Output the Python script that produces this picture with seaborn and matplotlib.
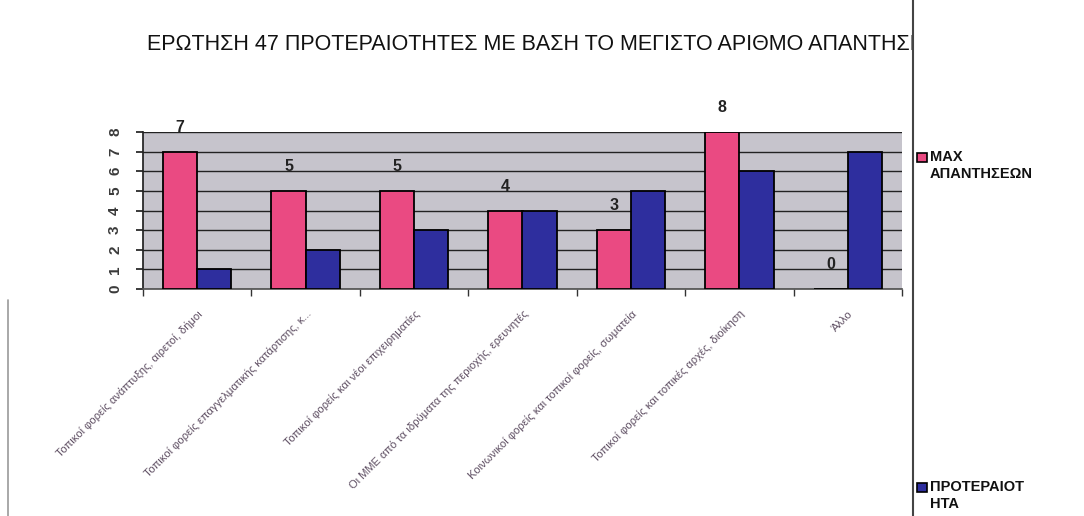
import matplotlib
matplotlib.use("Agg")
import matplotlib.pyplot as plt
from matplotlib.patches import Rectangle
from matplotlib.lines import Line2D
import seaborn as sns
import pandas as pd

categories = [
    "Τοπικοί φορείς ανάπτυξης, αιρετοί, δήμοι",
    "Τοπικοί φορείς επαγγελματικής κατάρτισης, κ...",
    "Τοπικοί φορείς και νέοι επιχειρηματίες",
    "Οι ΜΜΕ από τα ιδρύματα της περιοχής, ερευνητές",
    "Κοινωνικοί φορείς και τοπικοί φορείς, σωματεία",
    "Τοπικοί φορείς και τοπικές αρχές, διοίκηση",
    "Άλλο",
]
series_names = ["MAX ΑΠΑΝΤΗΣΕΩΝ", "ΠΡΟΤΕΡΑΙΟΤΗΤΑ"]
max_answers = [7, 5, 5, 4, 3, 8, 0]
priority = [1, 2, 3, 4, 5, 6, 7]
y_ticks = [0, 1, 2, 3, 4, 5, 6, 7, 8]
title = "ΕΡΩΤΗΣΗ 47 ΠΡΟΤΕΡΑΙΟΤΗΤΕΣ ΜΕ ΒΑΣΗ ΤΟ ΜΕΓΙΣΤΟ ΑΡΙΘΜΟ ΑΠΑΝΤΗΣΕΩΝ"
legend_texts = ["MAX\nΑΠΑΝΤΗΣΕΩΝ", "ΠΡΟΤΕΡΑΙΟΤ\nΗΤΑ"]

pink = "#ea4a82"
blue = "#2e2e9e"

df = pd.DataFrame({
    "cat": categories * 2,
    "series": [series_names[0]] * len(categories) + [series_names[1]] * len(categories),
    "value": max_answers + priority,
})

sns.set_theme(style="white")
plt.rcParams["font.family"] = ["Liberation Sans", "DejaVu Sans"]

W, H = 1084, 516
fig = plt.figure(figsize=(W / 100, H / 100), dpi=100)
fig.patch.set_facecolor("white")
ax = fig.add_axes([143 / W, 1 - 289 / H, (902 - 143) / W, (289 - 132) / H])
ax.set_facecolor("#c6c4cc")

sns.barplot(data=df, x="cat", y="value", hue="series", palette=[pink, blue],
            saturation=1, edgecolor="black", linewidth=1.3, width=0.63, ax=ax,
            legend=False, errorbar=None, zorder=3)

ax.set_ylim(0, 8)
ax.set_xlim(-0.5, len(categories) - 0.5)
ax.set_yticks(y_ticks)
ax.set_yticklabels([str(v) for v in y_ticks], rotation=90, fontsize=11,
                   fontweight="bold", color="#3a3a3a", va="center")
ax.yaxis.grid(True, color="#222222", linewidth=1.0, zorder=0)
ax.set_axisbelow(True)
ax.tick_params(axis="y", length=5, direction="out", color="#222222", pad=10, left=True)

ax.set_xticks(range(len(categories)))
ax.set_xticklabels(categories, rotation=45, ha="right", rotation_mode="anchor",
                   fontsize=8, color="#5e4e62")
ax.tick_params(axis="x", length=0, pad=14)
ax.set_xticks([i - 0.5 for i in range(len(categories) + 1)], minor=True)
ax.tick_params(axis="x", which="minor", length=5, direction="out", color="#333333", bottom=True)
ax.set_xlabel("")
ax.set_ylabel("")

for s in ["top", "right"]:
    ax.spines[s].set_visible(False)
ax.spines["left"].set_color("#222222")
ax.spines["bottom"].set_color("#555555")

ax.bar_label(ax.containers[0], labels=[str(v) for v in max_answers], padding=12,
             fontsize=11.5, fontweight="bold", color="#222222")

# title (clipped at the legend divider by the white panel)
fig.text(147 / W, 1 - 45 / H, title, fontsize=15.5, color="#111111",
         va="center", ha="left", zorder=5)

# right panel
fig.add_artist(Rectangle((913 / W, 0), 1 - 913 / W, 1, transform=fig.transFigure,
                         facecolor="white", edgecolor="none", zorder=10))
fig.add_artist(Line2D([913 / W, 913 / W], [0, 1], transform=fig.transFigure,
                      color="#444444", linewidth=1.5, zorder=11))
fig.add_artist(Line2D([8 / W, 8 / W], [0, 1 - 300 / H], transform=fig.transFigure,
                      color="#999999", linewidth=1.2, zorder=11))

legend_y = [157, 487]
for txt, col, yy in zip(legend_texts, [pink, blue], legend_y):
    fig.add_artist(Rectangle((917 / W, 1 - (yy + 5) / H), 10 / W, 9 / H,
                             transform=fig.transFigure, facecolor=col,
                             edgecolor="black", linewidth=1.2, zorder=12))
    fig.text(930 / W, 1 - (yy - 7) / H, txt, fontsize=10.5, fontweight="bold",
             color="#111111", va="top", ha="left", linespacing=1.3, zorder=12)

fig.savefig("out.png", dpi=100, facecolor="white")
